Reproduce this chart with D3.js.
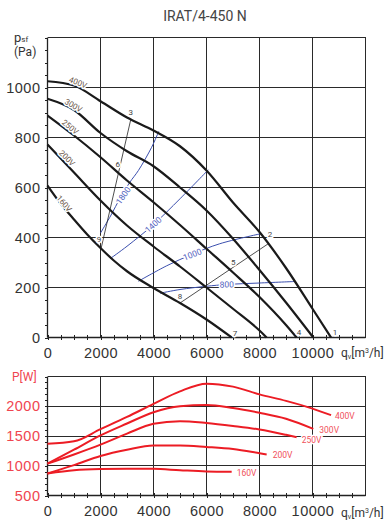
<!DOCTYPE html>
<meta charset="utf-8">
<style>
    body { margin: 0; background: #fff; }
    svg { font-family: Roboto, sans-serif; }
    .grid line { stroke: #2a2a2a; stroke-width: 1; shape-rendering: crispEdges; }
    .axis path { display: none; }
    .axis line { stroke: #222; shape-rendering: crispEdges; }
    .axis text { font-size: 14.5px; fill: #333; letter-spacing: 0.5px; }
    .paxis text { fill: #f0454f; }
    .fan { fill: none; stroke: #1a1a1a; stroke-width: 2.2; }
    .op { fill: none; stroke: #222; stroke-width: 0.8; }
    .iso { fill: none; stroke: #3b4fae; stroke-width: 1; }
    .pow { fill: none; stroke: #ec1c24; stroke-width: 2; }
    .halo { paint-order: stroke; stroke: #fff; stroke-width: 3px; stroke-linejoin: round; }
</style>
<body>
<script src="https://cdn.jsdelivr.net/npm/d3@7"></script>
<script>
    // static pressure curves, [q m3/h, p Pa]
    const fan400 = [[0,1025],[1000,1008],[2000,945],[3000,880],[4000,828],[5000,765],[6000,668],[7000,540],[8000,422],[9000,278],[10000,115],[10700,0]];
    const fan300 = [[0,955],[1000,910],[2000,818],[3000,745],[4000,685],[5000,600],[6000,508],[7000,395],[8000,270],[9000,140],[10030,0]];
    const fan250 = [[0,888],[1000,808],[2000,721],[3000,628],[4000,541],[5000,450],[6000,355],[7000,260],[8000,162],[9000,50],[9400,0]];
    const fan200 = [[0,772],[1000,660],[2000,548],[3000,448],[4000,364],[5000,284],[6000,200],[7000,115],[8000,28],[8270,0]];
    const fan160 = [[0,608],[500,535],[1000,472],[1500,412],[2000,358],[2500,308],[3000,265],[4000,198],[5000,138],[6000,72],[6950,0]];

    // power curves, [q m3/h, P W]
    const power400 = [[0,1370],[1000,1410],[2000,1615],[3000,1820],[4000,2040],[5000,2250],[6000,2380],[7000,2330],[8000,2200],[9000,2090],[10000,1960],[10700,1850]];
    const power300 = [[0,1035],[1000,1270],[2000,1510],[3000,1710],[4000,1900],[5000,2000],[6000,2020],[7000,1970],[8000,1890],[9000,1790],[10030,1620]];
    const power250 = [[0,1035],[1000,1190],[2000,1355],[3000,1540],[4000,1705],[5000,1750],[6000,1720],[7000,1670],[8000,1610],[9000,1520],[9400,1480]];
    const power200 = [[0,870],[1000,1010],[2000,1165],[3000,1270],[4000,1340],[5000,1340],[6000,1315],[7000,1280],[8000,1210],[8270,1190]];
    const power160 = [[0,870],[1000,925],[2000,945],[3000,950],[4000,948],[5000,925],[6000,905],[6950,900]];

    // blue iso lines
    const iso1800 = [[2000,418],[2400,490],[2740,558],[3100,620],[3430,668],[3930,761],[4200,825]];
    const iso1400 = [[2360,315],[3000,365],[4000,452],[5000,555],[6070,671]];
    const iso1000 = [[3430,225],[4500,287],[5440,332],[6500,375],[8040,415]];
    const iso800 = [[4245,177],[5000,192],[6000,205],[6760,212],[8000,218],[9340,224]];

    // thin operating lines
    const line39 = [[3140,871],[2020,355]];
    const line28 = [[8330,375],[5000,138]];

    const volts = ['400V','300V','250V','200V','160V'];
    const fanCurves = [fan400, fan300, fan250, fan200, fan160];
    const powerCurves = [power400, power300, power250, power200, power160];
    const isoNames = ['1800','1400','1000','800'];
    const isoCurves = [iso1800, iso1400, iso1000, iso800];

    const qTicks = [0,2000,4000,6000,8000,10000];
    const pTicks = [0,200,400,600,800,1000];
    const wTicks = [500,1000,1500,2000];

    // label anchors (data units) and angles
    const voltLabelAt = [[1150,1020,22],[980,928,30],[860,842,40],[740,718,45],[630,536,50]];
    const powerLabelAt = [[10849,1831],[10257,1595],[9592,1427],[8498,1174],[7140,882]];
    const isoLabelAt = [[2861,568,-55],[3993,451,-42],[5465,332,-22],[6762,212,-2]];
    const pointNames = ['1','2','3','4','5','6','7','8','9'];
    const pointAt = [[10849,21],[8396,412],[3140,901],[9491,21],[7011,301],[2649,695],[7075,19],[5000,165],[1943,392]];

    const width = 389, height = 528;
    const svg = d3.select('body').append('svg')
        .attr('width', width).attr('height', height);

    const x = d3.scaleLinear().domain([0, 12000]).range([47.5, 365.5]);
    const yP = d3.scaleLinear().domain([0, 1200]).range([337.5, 37.5]);
    const yW = d3.scaleLinear().domain([500, 2500]).range([495.5, 376.5]);

    // title
    svg.append('text')
        .attr('x', 205).attr('y', 21)
        .attr('text-anchor', 'middle')
        .style('font-size', '14px').style('fill', '#444')
        .text('IRAT/4-450 N');

    // ---- pressure chart ----
    const gridTop = svg.append('g').attr('class', 'grid');
    gridTop.selectAll('.v').data(d3.range(2000, 12001, 2000)).enter().append('line')
        .attr('x1', d => x(d)).attr('x2', d => x(d))
        .attr('y1', yP(1200)).attr('y2', yP(0));
    gridTop.selectAll('.h').data(d3.range(200, 1201, 200)).enter().append('line')
        .attr('x1', x(0)).attr('x2', x(12000))
        .attr('y1', d => yP(d)).attr('y2', d => yP(d));

    function drawAxes(g, yScale, yTicks, yMinor, yTop, yBottom) {
        // y axis
        g.append('g').attr('class', 'axis')
            .attr('transform', 'translate(' + x(0) + ',0)')
            .call(d3.axisLeft(yScale).tickValues(yMinor).tickSize(3).tickFormat(''));
        g.append('g').attr('class', 'axis ylab')
            .attr('transform', 'translate(' + x(0) + ',0)')
            .call(d3.axisLeft(yScale).tickValues(yTicks).tickSize(0).tickPadding(7).tickFormat(d3.format('d')));
        // x axis
        const xm = g.append('g').attr('class', 'axis')
            .attr('transform', 'translate(0,' + yBottom + ')')
            .call(d3.axisBottom(x).tickValues(d3.range(0, 11501, 500)).tickSize(3).tickFormat(''));
        xm.selectAll('line').attr('y1', -2.5).attr('y2', 2.5);
        g.append('g').attr('class', 'axis')
            .attr('transform', 'translate(0,' + yBottom + ')')
            .call(d3.axisBottom(x).tickValues(qTicks).tickSize(0).tickPadding(10).tickFormat(d3.format('d')));
        g.append('line').attr('x1', x(0)).attr('x2', x(0)).attr('y1', yTop).attr('y2', yBottom)
            .style('stroke', '#222').style('stroke-width', 1.3);
        g.append('line').attr('x1', x(0)).attr('x2', x(12000)).attr('y1', yBottom).attr('y2', yBottom)
            .style('stroke', '#222').style('stroke-width', 1.3);
    }

    const pressG = svg.append('g');
    drawAxes(pressG, yP, pTicks, d3.range(0, 1201, 50), yP(1200), yP(0));

    const lineP = d3.line().x(d => x(d[0])).y(d => yP(d[1])).curve(d3.curveMonotoneX);
    const lineIso = d3.line().x(d => x(d[0])).y(d => yP(d[1])).curve(d3.curveCatmullRom.alpha(0.5));
    const lineStraight = d3.line().x(d => x(d[0])).y(d => yP(d[1]));

    pressG.selectAll('.iso').data(isoCurves).enter().append('path')
        .attr('class', 'iso').attr('d', lineIso);
    pressG.selectAll('.op').data([line39, line28]).enter().append('path')
        .attr('class', 'op').attr('d', lineStraight);
    pressG.selectAll('.fan').data(fanCurves).enter().append('path')
        .attr('class', 'fan').attr('d', lineP);

    pressG.selectAll('.isolab').data(isoNames).enter().append('text')
        .attr('class', 'halo')
        .attr('transform', (d, i) => 'translate(' + x(isoLabelAt[i][0]) + ',' + yP(isoLabelAt[i][1]) + ') rotate(' + isoLabelAt[i][2] + ')')
        .attr('text-anchor', 'middle').attr('dy', '0.35em')
        .style('font-size', '8.5px').style('fill', '#5363c0')
        .text(d => d);

    pressG.selectAll('.vlab').data(volts).enter().append('text')
        .attr('class', 'halo')
        .attr('transform', (d, i) => 'translate(' + x(voltLabelAt[i][0]) + ',' + yP(voltLabelAt[i][1]) + ') rotate(' + voltLabelAt[i][2] + ')')
        .attr('text-anchor', 'middle').attr('dy', '0.35em')
        .style('font-size', '8px').style('fill', '#6a5548')
        .text(d => d);

    pressG.selectAll('.plab').data(pointNames).enter().append('text')
        .attr('class', 'halo')
        .attr('x', (d, i) => x(pointAt[i][0])).attr('y', (d, i) => yP(pointAt[i][1]))
        .attr('text-anchor', 'middle').attr('dy', '0.35em')
        .style('font-size', '8px').style('fill', '#444')
        .text(d => d);

    // axis titles
    const pLab = svg.append('text').attr('x', 14).attr('y', 42)
        .style('font-size', '13px').style('fill', '#333');
    pLab.append('tspan').text('p');
    pLab.append('tspan').style('font-size', '8px').text('sf');
    svg.append('text').attr('x', 14).attr('y', 56)
        .style('font-size', '12px').style('fill', '#333').text('(Pa)');

    function qLabel(yBase) {
        const t = svg.append('text').attr('x', 341).attr('y', yBase)
            .style('font-size', '12px').style('fill', '#333');
        t.append('tspan').text('q');
        t.append('tspan').style('font-size', '7px').attr('dy', 2).text('v');
        t.append('tspan').attr('dy', -2).text('[m');
        t.append('tspan').style('font-size', '7px').attr('dy', -4).text('3');
        t.append('tspan').attr('dy', 4).text('/h]');
    }
    qLabel(357);

    // ---- power chart ----
    const gridBot = svg.append('g').attr('class', 'grid');
    gridBot.selectAll('.v').data(d3.range(2000, 12001, 2000)).enter().append('line')
        .attr('x1', d => x(d)).attr('x2', d => x(d))
        .attr('y1', yW(2500)).attr('y2', yW(500));
    gridBot.selectAll('.h').data([1000, 1500, 2000, 2500]).enter().append('line')
        .attr('x1', x(0)).attr('x2', x(12000))
        .attr('y1', d => yW(d)).attr('y2', d => yW(d));

    const powG = svg.append('g');
    drawAxes(powG, yW, wTicks, d3.range(500, 2501, 100), yW(2500), yW(500));
    powG.selectAll('.ylab').classed('paxis', true);

    const lineW = d3.line().x(d => x(d[0])).y(d => yW(d[1])).curve(d3.curveMonotoneX);
    powG.selectAll('.pow').data(powerCurves).enter().append('path')
        .attr('class', 'pow').attr('d', lineW);

    powG.selectAll('.wlab').data(volts).enter().append('text')
        .attr('class', 'halo')
        .attr('x', (d, i) => x(powerLabelAt[i][0])).attr('y', (d, i) => yW(powerLabelAt[i][1]))
        .attr('dy', '0.35em')
        .style('font-size', '8.5px').style('fill', '#f0505a')
        .text(d => d);

    svg.append('text').attr('x', 12).attr('y', 381)
        .style('font-size', '12px').style('fill', '#f0454f').text('P[W]');
    qLabel(517);
</script>
</body>
</html>
